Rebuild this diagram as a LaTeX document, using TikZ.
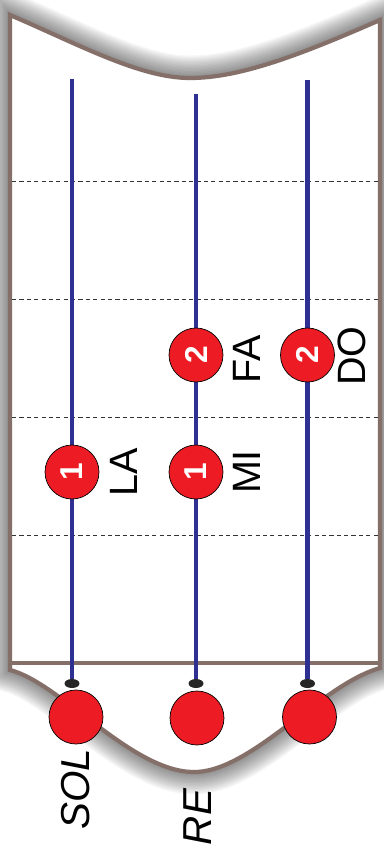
\documentclass[tikz,border=0pt]{standalone}
\usepackage{fontspec}
\setmainfont{Liberation Sans}
\usetikzlibrary{shapes.geometric}

\definecolor{frame}{RGB}{133,112,105}
\definecolor{strblue}{RGB}{46,49,146}
\definecolor{ballred}{RGB}{237,28,36}

\newcommand{\boardoutline}{(10,15) .. controls (80,45) and (140,78) .. (190,78)
  .. controls (240,78) and (300,55) .. (380,20) -- (380,668)
  .. controls (320,685) and (250,774) .. (192,772)
  .. controls (130,770) and (60,683) .. (10,670) -- cycle}

\begin{document}
\begin{tikzpicture}[x=0.02cm, y=-0.02cm,
				ball/.style={circle, draw=black, line width=0.4pt, fill=ballred, minimum size=1.08cm, inner sep=0pt},
				finger/.style={ball, rotate=90, text=white, font=\fontsize{18}{18}\selectfont\bfseries},
				peg/.style={ellipse, fill=black!85, minimum width=0.3cm, minimum height=0.18cm, inner sep=0pt},
				string/.style={draw=strblue, line width=2.6pt},
				fret/.style={draw=black!80, line width=0.5pt, dash pattern=on 2.4pt off 1.8pt},
				note/.style={rotate=90, font=\fontsize{22.5}{22.5}\selectfont},
				opennote/.style={rotate=90, font=\fontsize{23}{23}\selectfont\itshape}
				]
				
				\useasboundingbox (0,0) rectangle (383,859);
				
				% soft shadow round the neck
				\foreach \w in {1,...,16} {
					\draw[black, opacity=0.035, line width=\w*1.6pt] \boardoutline;
				}
				\draw[draw=frame, line width=2.4pt, fill=white] \boardoutline;
				\draw[draw=frame, line width=2.4pt] (10,663) -- (380,663);
				
				\foreach \y in {181, 299, 417, 535} {
					\draw[fret] (12,\y) -- (378,\y);
				}
				
				\node[peg] (pegS) at (72,683.5) {};
				\node[peg] (pegR) at (196,683.5) {};
				\node[peg] (pegD) at (307.5,683.5) {};
				
				\node[ball] (ballS) at (76,717) {};
				\node[ball] (ballR) at (197,718) {};
				\node[ball] (ballD) at (309.5,717) {};
				
				\coordinate (topS) at (72,79);
				\coordinate (topR) at (196,94);
				\coordinate (topD) at (307.5,80);
				
				\foreach \s in {S, R, D} {
					\draw[string] (top\s) -- (peg\s);
				}
				
				\node[finger] (la) at (72,472) {1};
				\node[finger] (mi) at (196,472) {1};
				\node[finger] (fa) at (196,355) {2};
				\node[finger] (do) at (307.5,355) {2};
				
				\node[note] (laLabel) at (123.5,472) {LA};
				\node[note] (miLabel) at (247,472) {MI};
				\node[note] (faLabel) at (247,359) {FA};
				\node[note] (doLabel) at (352,356) {DO};
				
				\node[opennote] (solLabel) at (75.5,789) {SOL};
				\node[opennote] (reLabel) at (198,817) {RE};
			\end{tikzpicture}
\end{document}
